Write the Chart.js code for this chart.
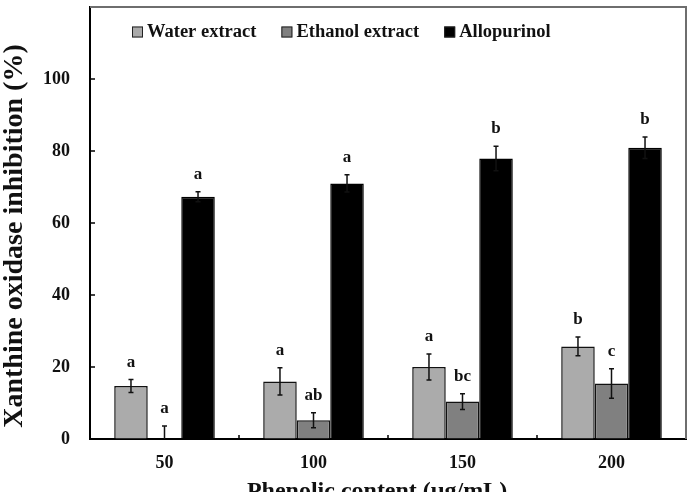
<!DOCTYPE html>
<html>
<head>
<meta charset="utf-8">
<script src="https://cdn.jsdelivr.net/npm/chart.js@4.4.1/dist/chart.umd.min.js"></script>
<style>
  html, body { margin: 0; padding: 0; background: #fff; }
</style>
</head>
<body>
<canvas id="xo-chart" width="695" height="492"></canvas>
<script>
// data
const doses = ["50", "100", "150", "200"];

const water = [14.7, 16.0, 20.0, 25.7];
const waterErr = [1.8, 3.8, 3.6, 2.6];
const waterLetters = ["a", "a", "a", "b"];

const ethanol = [0, 5.2, 10.4, 15.4];
const ethanolErr = [3.6, 2.1, 2.2, 4.1];
const ethanolLetters = ["a", "ab", "bc", "c"];

const allo = [67.3, 71.0, 77.9, 80.9];
const alloErr = [1.4, 2.4, 3.4, 3.0];
const alloLetters = ["a", "a", "b", "b"];

const yTicks = [0, 20, 40, 60, 80, 100];

const serif = '"Liberation Serif", "DejaVu Serif", serif';

// error bars + significance letters
const errorBars = {
    id: 'errorBars',
    afterDatasetsDraw(chart) {
        const ctx = chart.ctx;
        const yScale = chart.scales.y;
        const area = chart.chartArea;
        chart.data.datasets.forEach((ds, i) => {
            const meta = chart.getDatasetMeta(i);
            meta.data.forEach((bar, j) => {
                const v = ds.data[j];
                const e = ds.errors[j];
                const x = bar.x;
                const top = yScale.getPixelForValue(v + e);
                const bot = Math.min(yScale.getPixelForValue(v - e), area.bottom);
                ctx.save();
                ctx.strokeStyle = '#111';
                ctx.lineWidth = 1.5;
                ctx.beginPath();
                ctx.moveTo(x, top);
                ctx.lineTo(x, bot);
                ctx.moveTo(x - 2.5, top);
                ctx.lineTo(x + 2.5, top);
                if (bot < area.bottom) {
                    ctx.moveTo(x - 2.5, bot);
                    ctx.lineTo(x + 2.5, bot);
                }
                ctx.stroke();

                ctx.fillStyle = '#111';
                ctx.font = 'bold 17px ' + serif;
                ctx.textAlign = 'center';
                ctx.textBaseline = 'alphabetic';
                ctx.fillText(ds.letters[j], x, top - 13);
                ctx.restore();
            });
        });
    }
};

// inward ticks, grey frame, legend and axis titles
const decorations = {
    id: 'decorations',
    afterDraw(chart) {
        const ctx = chart.ctx;
        const area = chart.chartArea;
        const xScale = chart.scales.x;
        const yScale = chart.scales.y;
        ctx.save();

        // top + right frame
        ctx.strokeStyle = '#6e6e6e';
        ctx.lineWidth = 2;
        ctx.beginPath();
        ctx.moveTo(area.left, area.top);
        ctx.lineTo(area.right, area.top);
        ctx.lineTo(area.right, area.bottom);
        ctx.stroke();

        // tick marks pointing inside
        ctx.strokeStyle = '#000';
        ctx.lineWidth = 1.5;
        ctx.beginPath();
        yTicks.forEach(t => {
            const py = yScale.getPixelForValue(t);
            ctx.moveTo(area.left, py);
            ctx.lineTo(area.left + 5, py);
        });
        for (let i = 1; i < doses.length; i++) {
            const px = (xScale.getPixelForValue(i - 1) + xScale.getPixelForValue(i)) / 2;
            ctx.moveTo(px, area.bottom);
            ctx.lineTo(px, area.bottom - 4);
        }
        ctx.stroke();

        // legend inside the plot
        ctx.font = 'bold 18.5px ' + serif;
        ctx.textBaseline = 'middle';
        ctx.textAlign = 'left';
        let lx = 132;
        const ly = 32;
        chart.data.datasets.forEach(ds => {
            ctx.fillStyle = ds.backgroundColor;
            ctx.fillRect(lx, ly - 5.5, 11, 11);
            ctx.strokeStyle = '#222';
            ctx.lineWidth = 1;
            ctx.strokeRect(lx + 0.5, ly - 5, 10, 10);
            ctx.fillStyle = '#111';
            ctx.fillText(ds.label, lx + 15, ly);
            lx += 15 + ctx.measureText(ds.label).width + 25;
        });

        // axis titles
        ctx.fillStyle = '#111';
        ctx.textAlign = 'center';
        ctx.font = 'bold 24px ' + serif;
        ctx.fillText('Phenolic content (\u03bcg/mL)', 377, 492);

        ctx.translate(15, 236);
        ctx.rotate(-Math.PI / 2);
        ctx.font = 'bold 28px ' + serif;
        ctx.fillText('Xanthine oxidase inhibition (%)', 0, 0);
        ctx.restore();
    }
};

const xoCanvas = document.getElementById('xo-chart');

let xoChart = new Chart(xoCanvas, {
    type: 'bar',
    data: {
        labels: doses,
        datasets: [{
            label: 'Water extract',
            data: water,
            errors: waterErr,
            letters: waterLetters,
            backgroundColor: '#ababab',
            borderColor: '#111',
            borderWidth: 1.5
        }, {
            label: 'Ethanol extract',
            data: ethanol,
            errors: ethanolErr,
            letters: ethanolLetters,
            backgroundColor: '#808080',
            borderColor: '#111',
            borderWidth: 1.5
        }, {
            label: 'Allopurinol',
            data: allo,
            errors: alloErr,
            letters: alloLetters,
            backgroundColor: '#000000',
            borderColor: '#000',
            borderWidth: 1.5
        }]
    },
    options: {
        responsive: false,
        animation: { duration: 0 },
        categoryPercentage: 0.675,
        barPercentage: 1,
        layout: {
            padding: { top: 7, right: 9, left: 0, bottom: 0 }
        },
        scales: {
            x: {
                afterFit: scale => {
                    scale.height = 53;
                    scale.paddingLeft = 0;
                    scale.paddingRight = 0;
                },
                grid: { display: true, drawOnChartArea: false, drawTicks: false },
                border: { color: '#000', width: 2 },
                ticks: {
                    color: '#111',
                    padding: 14,
                    font: { family: serif, size: 18, weight: 'bold' }
                }
            },
            y: {
                min: 0,
                max: 120,
                afterFit: scale => {
                    scale.width = 90;
                    scale.paddingTop = 0;
                    scale.paddingBottom = 0;
                },
                afterBuildTicks: scale => {
                    scale.ticks = yTicks.map(v => ({ value: v }));
                },
                grid: { display: true, drawOnChartArea: false, drawTicks: false },
                border: { color: '#000', width: 2 },
                ticks: {
                    color: '#111',
                    padding: 20,
                    font: { family: serif, size: 18, weight: 'bold' }
                }
            }
        },
        plugins: {
            legend: { display: false },
            tooltip: { enabled: false }
        }
    },
    plugins: [errorBars, decorations]
});
</script>
</body>
</html>
